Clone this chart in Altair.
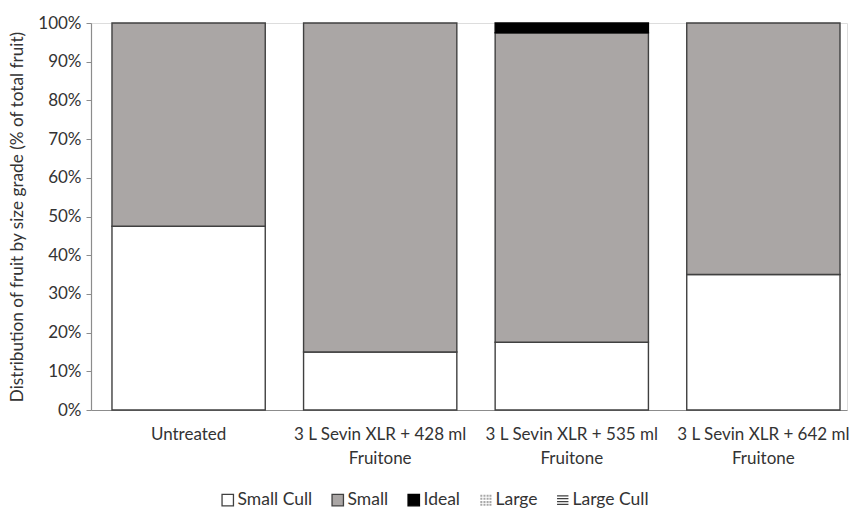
import altair as alt
import pandas as pd

# Treatments (x categories); "\n" marks the line break in the axis label
treatments = [
    "Untreated",
    "3 L Sevin XLR + 428 ml\nFruitone",
    "3 L Sevin XLR + 535 ml\nFruitone",
    "3 L Sevin XLR + 642 ml\nFruitone",
]
grades = ["Small Cull", "Small", "Ideal", "Large", "Large Cull"]

# Share of fruit in each size grade (% of total fruit)
small_cull = [47.5, 15.0, 17.5, 35.0]
small = [52.5, 85.0, 80.0, 65.0]
ideal = [0.0, 0.0, 2.5, 0.0]
large = [0.0, 0.0, 0.0, 0.0]
large_cull = [0.0, 0.0, 0.0, 0.0]

series = [small_cull, small, ideal, large, large_cull]
rows = []
for gi, (g, vals) in enumerate(zip(grades, series)):
    for t, v in zip(treatments, vals):
        rows.append({"treatment": t, "grade": g, "pct": v, "idx": gi})
df = pd.DataFrame(rows)

# Legend symbol paths (unit square -1..1)
square = "M-1,-1H1V1H-1Z"
dots = "".join(
    f"M{x:.2f},{y:.2f}h0.35v0.35h-0.35Z"
    for x in (-0.95, -0.4, 0.15, 0.65)
    for y in (-0.95, -0.4, 0.15, 0.65)
)
lines = "M-1,-0.75H1M-1,-0.25H1M-1,0.25H1M-1,0.75H1"

fill_scale = alt.Scale(domain=grades,
                       range=["#ffffff", "#aaa6a5", "#000000", "#a8a8a8", "#ffffff"])
stroke_scale = alt.Scale(domain=grades,
                         range=["#404040", "#404040", "#000000", "transparent", "#404040"])
shape_scale = alt.Scale(domain=grades, range=[square, square, square, dots, lines])

FONT = "Lato"
TEXT = "#333333"
legend = alt.Legend(
    title=None, orient="none", direction="horizontal",
    legendX=128, legendY=468,
    labelFont=FONT, labelFontSize=17.5, labelColor=TEXT,
    symbolSize=130, symbolStrokeWidth=1.3, symbolOpacity=1,
    columnPadding=16, labelOffset=1,
)

x_enc = alt.X(
    "treatment:N", sort=treatments, title=None,
    scale=alt.Scale(paddingInner=0.2, paddingOuter=0.073, align=0.75),
    axis=alt.Axis(
        labelExpr="split(datum.label, '\\n')", labelAngle=0, labelLimit=300,
        labelFont=FONT, labelFontSize=17, labelColor=TEXT,
        labelLineHeight=24, labelPadding=16, ticks=False,
        domainColor="#8c8c8c", domainWidth=1.2,
    ),
)
y_enc = alt.Y(
    "pct:Q", stack="zero",
    title="Distribution of fruit by size grade (% of total fruit)",
    scale=alt.Scale(domain=[0, 100], nice=False),
    axis=alt.Axis(
        values=list(range(0, 101, 10)), labelExpr="datum.value + '%'",
        labelFont=FONT, labelFontSize=17, labelColor=TEXT,
        titleFont=FONT, titleFontSize=17.2, titleColor=TEXT,
        titleFontWeight="normal", titlePadding=11,
        grid=False, tickSize=5, tickColor="#8c8c8c",
        domainColor="#8c8c8c", domainWidth=1.2, labelPadding=5,
    ),
)

bars = (
    alt.Chart(df)
    .transform_filter("datum.pct > 0")
    .mark_bar(strokeWidth=1.4)
    .encode(
        x=x_enc,
        y=y_enc,
        fill=alt.Fill("grade:N", scale=fill_scale, legend=legend),
        stroke=alt.Stroke("grade:N", scale=stroke_scale, legend=legend),
        order=alt.Order("idx:Q", sort="ascending"),
    )
)

# Legend carrier: no data drawn, supplies the per-grade symbol shapes
keys = (
    alt.Chart(df)
    .transform_filter("false")
    .mark_point(filled=True, opacity=1)
    .encode(
        x=x_enc,
        y=y_enc,
        fill=alt.Fill("grade:N", scale=fill_scale, legend=legend),
        stroke=alt.Stroke("grade:N", scale=stroke_scale, legend=legend),
        shape=alt.Shape("grade:N", scale=shape_scale, legend=legend),
    )
)

chart = (
    alt.layer(bars, keys)
    .properties(
        width=756, height=387,
        autosize=alt.AutoSizeParams(type="none"),
        padding={"left": 91, "top": 23, "right": 2, "bottom": 98},
    )
    .configure_view(stroke=None)
    .configure(background="white")
)

chart.save("out.html", embed_options={"renderer": "svg", "actions": False})
